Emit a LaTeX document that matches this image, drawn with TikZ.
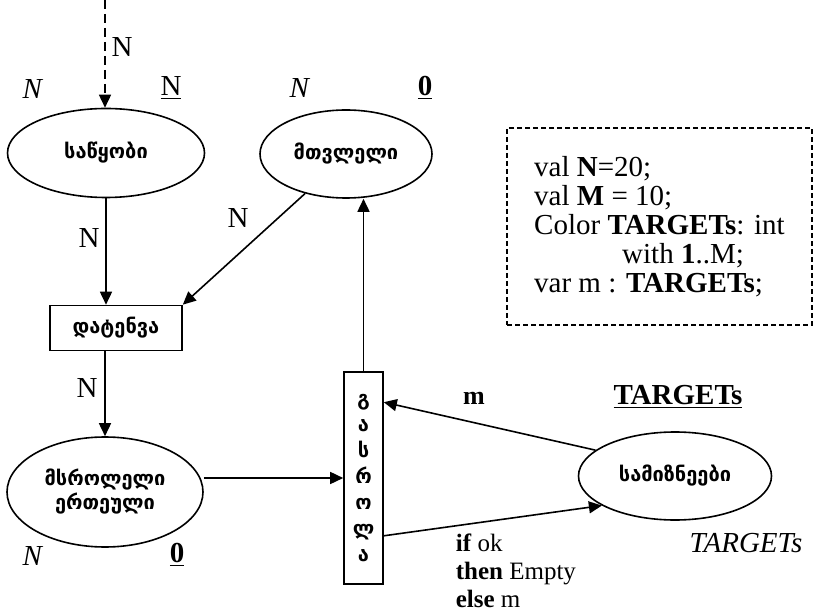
\documentclass[tikz,border=0pt]{standalone}
\usepackage{fontspec}
\setmainfont{Liberation Serif}
\newfontfamily\geo[Script=Georgian]{DejaVu Sans}
\usetikzlibrary{shapes.geometric,arrows.meta}

\begin{document}
\begin{tikzpicture}[x=0.5pt, y=-0.5pt, line width=0.8pt,
  every node/.style={font=\fontsize{14.5}{14.5}\selectfont},
  place/.style={draw, ellipse, inner sep=0pt, align=center, font=\geo\bfseries\fontsize{10}{12}\selectfont},
  trans/.style={draw, rectangle, inner sep=0pt, align=center, font=\geo\bfseries\fontsize{10}{13}\selectfont},
  arc/.style={-{Triangle[length=6.5pt,width=6pt]}},
  lab/.style={inner sep=0pt}]
  \useasboundingbox (0,0) rectangle (813,614);

  % places and transitions
  \node[place, minimum width=98.5pt, minimum height=44.5pt] (store) at (106,153) {საწყობი};
  \node[place, minimum width=86pt, minimum height=44pt] (cnt) at (346,154) {მთვლელი};
  \node[trans, minimum width=66pt, minimum height=22.5pt] (load) at (116,328) {დატენვა};
  \node[place, minimum width=98pt, minimum height=55pt] (unit) at (105,492) {მსროლელი\\ერთეული};
  \node[trans, minimum width=19.5pt, minimum height=106pt] (shot) at (363.5,478) {გ\\ა\\ს\\რ\\ო\\ლ\\ა};
  \node[place, minimum width=96.5pt, minimum height=44pt] (tgt) at (675,476) {სამიზნეები};

  % declarations
  \node[draw, dash pattern=on 2.5pt off 1.5pt, line width=0.6pt, inner sep=0pt,
        minimum width=152.5pt, minimum height=98.5pt, align=left,
        font=\fontsize{14.5}{14.5}\selectfont] (decl) at (659.5,226.5)
    {val \textbf{N}=20;\\ val \textbf{M} = 10;\\ Color \textbf{TARGETs}: int\\ \hspace*{44pt}with \textbf{1}..M;\\ var m : \textbf{TARGETs};};

  % arcs
  \coordinate (src) at (105,0);
  \draw[arc, dash pattern=on 4.5pt off 2.5pt] (src) -- (src |- store.north);
  \draw[arc] (store.south) -- (load.north -| store.south);
  \draw[arc] (cnt.224) -- (load.north east);
  \draw[arc] (load.south -| unit.north) -- (unit.north);
  \draw[arc] (unit.east |- shot.west) -- (shot.west);
  \draw[arc] (shot.north) -- (shot.north |- cnt.south);
  \draw[arc] (tgt.162) -- ([yshift=-15.5pt]shot.north east);
  \draw[arc] ([yshift=24.5pt]shot.south east) -- (tgt.202);

  % inscriptions
  \node[lab] (nIn) at (122,47) {N};
  \node[lab] (storeType) at (33,89) {\textit{N}};
  \node[lab] (storeInit) at (171,88) {\underline{N}};
  \node[lab] (cntType) at (300,88) {\textit{N}};
  \node[lab] (cntInit) at (425,88) {\underline{\textbf{0}}};
  \node[lab] (nLoad) at (89,238) {N};
  \node[lab] (nCnt) at (238,218) {N};
  \node[lab] (nUnit) at (87,388) {N};
  \node[lab] (unitType) at (33,556) {\textit{N}};
  \node[lab] (unitInit) at (177,555) {\underline{\textbf{0}}};
  \node[lab, font=\fontsize{13}{14.5}\selectfont] (mArc) at (474,398) {\textbf{m}};
  \node[lab] (tgtInit) at (678,397) {\underline{\textbf{TARGETs}}};
  \node[lab] (tgtType) at (746,543) {\textit{TARGETs}};
  \node[lab, anchor=north west, align=left, font=\fontsize{12.5}{14}\selectfont] (guard) at (455,533)
    {\textbf{if} ok\\\textbf{then} Empty\\\textbf{else} m};
\end{tikzpicture}
\end{document}
